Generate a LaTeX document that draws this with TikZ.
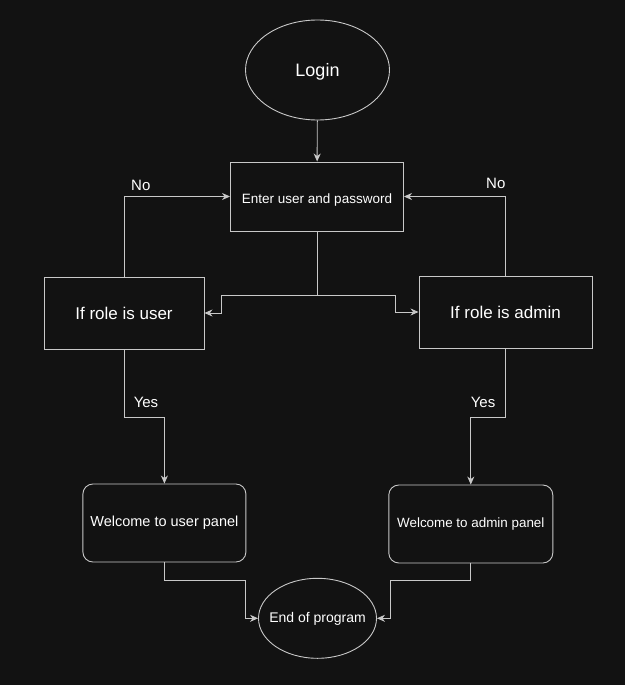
\documentclass[tikz,border=0pt]{standalone}
\usepackage{fontspec}
\setmainfont{Liberation Sans}
\usetikzlibrary{arrows.meta,shapes.geometric}
\definecolor{bgc}{HTML}{121212}
\definecolor{linec}{HTML}{C8C8C8}
\tikzset{
  box/.style={draw=linec, line width=0.9pt, fill=bgc, text=white, inner sep=0pt, anchor=center},
  oval/.style={box, ellipse},
  conn/.style={draw=linec, line width=0.9pt, -{Stealth[length=8pt,width=7pt,inset=2.5pt]}},
  lbl/.style={text=white, inner sep=0pt, font=\fontsize{15}{18}\selectfont},
}
\begin{document}
\begin{tikzpicture}[x=1pt,y=-1pt]
\fill[bgc] (0,0) rectangle (625,685);
\useasboundingbox (0,0) rectangle (625,685);
% nodes
\node[oval, minimum width=144pt, minimum height=100pt, label={[text=white, font=\fontsize{18}{22}\selectfont, yshift=-1.5pt]center:Login}] (login) at (317.5,70) {};
\node[box, minimum width=173pt, minimum height=69pt, font=\fontsize{13.5}{16}\selectfont, text height=13pt, text depth=0pt] (enter) at (317,196.5) {Enter user and password};
\node[box, minimum width=160pt, minimum height=72pt, font=\fontsize{17}{20}\selectfont] (user) at (124,313) {If role is user};
\node[box, minimum width=173pt, minimum height=72pt, font=\fontsize{17}{20}\selectfont] (admin) at (505.5,312) {If role is admin};
\node[box, rounded corners=10pt, minimum width=163pt, minimum height=78pt, font=\fontsize{14.5}{17}\selectfont] (wuser) at (164.4,523) {Welcome to user panel};
\node[box, rounded corners=10pt, minimum width=164pt, minimum height=78pt, font=\fontsize{13.4}{16}\selectfont] (wadmin) at (470.8,524) {Welcome to admin panel};
\node[oval, minimum width=118pt, minimum height=80pt, label={[text=white, font=\fontsize{14}{17}\selectfont, yshift=-1pt]center:End of program}] (end) at (317.5,618.3) {};
% waypoints
\coordinate (splitL) at (221.7,295);
\coordinate (splitR) at (395.3,295);
\coordinate (yesL) at (124,417);
\coordinate (yesR) at (505.5,417);
\coordinate (endL) at (245.7,580);
\coordinate (endR) at (390,580);
% connectors
\draw[conn] (login) -- (enter);
\draw[conn] (enter.south) |- (splitL) |- (user.east);
\draw[conn] (enter.south) |- (splitR) |- (admin.west);
\draw[conn] (user.north) |- (enter.west);
\draw[conn] (admin.north) |- (enter.east);
\draw[conn] (user.south) -- (yesL) -| (wuser.north);
\draw[conn] (admin.south) -- (yesR) -| (wadmin.north);
\draw[conn] (wuser.south) |- (endL) |- (end.west);
\draw[conn] (wadmin.south) |- (endR) |- (end.east);
% labels
\node[lbl] (noL) at (140.8,185) {No};
\node[lbl] (noR) at (495.8,183.5) {No};
\node[lbl] (yesLt) at (146,402) {Yes};
\node[lbl] (yesRt) at (483,402) {Yes};
\end{tikzpicture}
\end{document}
